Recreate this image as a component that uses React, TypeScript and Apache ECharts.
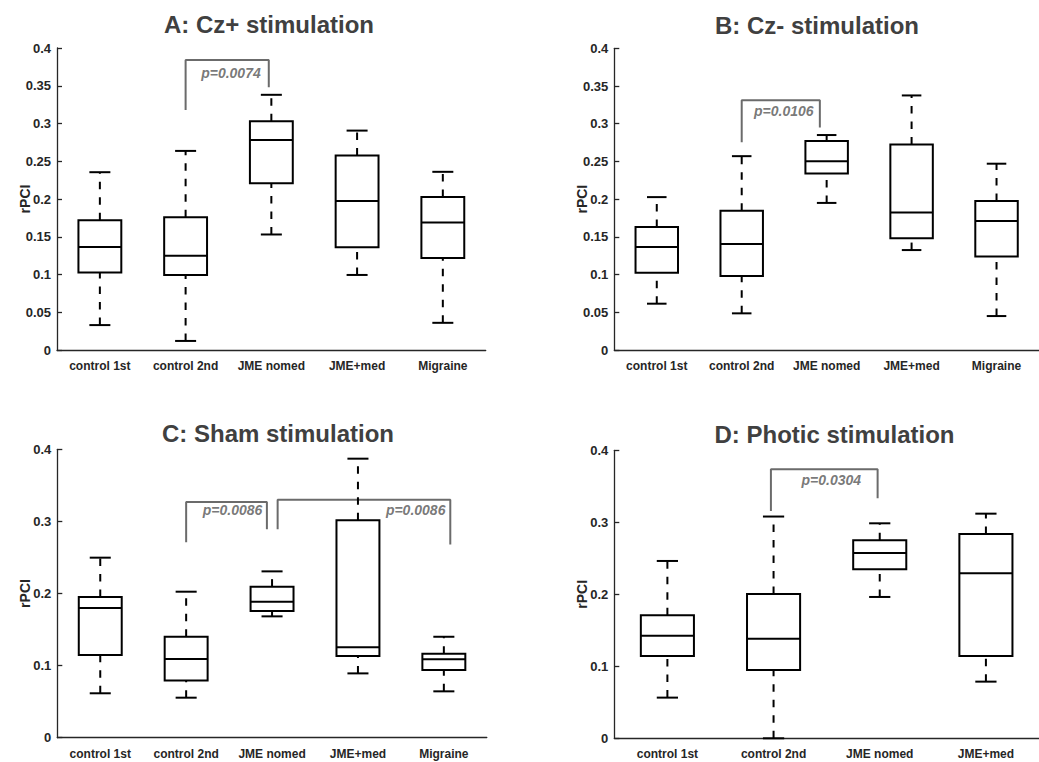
import React, { useEffect, useRef } from "react";
import * as echarts from "echarts";

// Group labels
const groups5 = ["control 1st", "control 2nd", "JME nomed", "JME+med", "Migraine"];
const groups4 = ["control 1st", "control 2nd", "JME nomed", "JME+med"];

// Box statistics per group: [lower whisker, Q1, median, Q3, upper whisker]
const czPlus = [
  [0.033, 0.1025, 0.1365, 0.172, 0.2355],
  [0.012, 0.0994, 0.125, 0.1758, 0.2637],
  [0.153, 0.221, 0.278, 0.303, 0.338],
  [0.0994, 0.136, 0.1974, 0.2575, 0.2906],
  [0.036, 0.122, 0.169, 0.2027, 0.236],
];
const czMinus = [
  [0.0614, 0.1025, 0.1365, 0.163, 0.2027],
  [0.0486, 0.098, 0.1405, 0.1846, 0.257],
  [0.195, 0.234, 0.2504, 0.277, 0.285],
  [0.1325, 0.148, 0.1824, 0.2725, 0.3375],
  [0.045, 0.124, 0.171, 0.1974, 0.247],
];
const sham = [
  [0.0616, 0.1147, 0.18, 0.195, 0.2497],
  [0.0555, 0.0795, 0.109, 0.14, 0.2025],
  [0.1683, 0.1757, 0.1887, 0.2095, 0.2307],
  [0.0892, 0.1133, 0.1253, 0.3015, 0.387],
  [0.0643, 0.0939, 0.1087, 0.1165, 0.14],
];
const photic = [
  [0.0565, 0.1143, 0.1426, 0.1708, 0.2463],
  [0, 0.0949, 0.1384, 0.2005, 0.308],
  [0.1963, 0.2347, 0.2574, 0.275, 0.2986],
  [0.0787, 0.1143, 0.2292, 0.2838, 0.312],
];

// Significance brackets: [group position, rPCI] corners
const bracketA = [[1, 0.318], [1, 0.384], [1.97, 0.384], [1.97, 0.348]];
const bracketB = [[1, 0.2756], [1, 0.331], [1.92, 0.331], [1.92, 0.295]];
const bracketC1 = [[1, 0.271], [1, 0.327], [1.94, 0.327], [1.94, 0.289]];
const bracketC2 = [[2.065, 0.289], [2.065, 0.33], [4.075, 0.33], [4.075, 0.268]];
const bracketD = [[0.975, 0.3157], [0.975, 0.3736], [1.98, 0.3736], [1.98, 0.3333]];

// p-value annotations: [group position, rPCI, text]
const noteA: [number, number, string] = [1.529, 0.367, "p=0.0074"];
const noteB: [number, number, string] = [1.496, 0.3167, "p=0.0106"];
const noteC1: [number, number, string] = [1.54, 0.3158, "p=0.0086"];
const noteC2: [number, number, string] = [3.672, 0.3158, "p=0.0086"];
const noteD: [number, number, string] = [1.544, 0.3588, "p=0.0304"];

const yTicksFine = 0.05;
const yTicksCoarse = 0.1;

const SANS = "'Liberation Sans', Arial, Helvetica, sans-serif";
const AXIS = "#262626";

const panels = [
  {
    title: "A: Cz+ stimulation", cats: groups5, boxes: czPlus, step: yTicksFine,
    brackets: [bracketA], notes: [noteA], cap: 0.245,
    grid: { left: 57, top: 48, width: 428.7, height: 302 }, titleX: 269, titleTop: 12,
  },
  {
    title: "B: Cz- stimulation", cats: groups5, boxes: czMinus, step: yTicksFine,
    brackets: [bracketB], notes: [noteB], cap: 0.23,
    grid: { left: 614.3, top: 48.3, width: 434.7, height: 301.7 }, titleX: 817, titleTop: 13.5,
  },
  {
    title: "C: Sham stimulation", cats: groups5, boxes: sham, step: yTicksCoarse,
    brackets: [bracketC1, bracketC2], notes: [noteC1, noteC2], cap: 0.245,
    grid: { left: 57.3, top: 449.3, width: 429.5, height: 288.4 }, titleX: 278, titleTop: 421,
  },
  {
    title: "D: Photic stimulation", cats: groups4, boxes: photic, step: yTicksCoarse,
    brackets: [bracketD], notes: [noteD], cap: 0.2,
    grid: { left: 614.3, top: 450.3, width: 434.3, height: 288 }, titleX: 834.5, titleTop: 422.5,
  },
];

function boxRenderer(capFrac: number) {
  return (_params: any, api: any) => {
    const i = api.value(0);
    const x = api.coord([i, 0])[0];
    const band = api.size([1, 0])[0];
    const y = (k: number) => api.coord([i, api.value(k)])[1];
    const yMin = y(1);
    const yQ1 = y(2);
    const yMed = y(3);
    const yQ3 = y(4);
    const yMax = y(5);
    const half = band * 0.25;
    const cap = (band * capFrac) / 2;
    const solid = { stroke: "#000", lineWidth: 2, fill: "none" };
    const dashed = { stroke: "#000", lineWidth: 2, lineDash: [7.5, 8] };
    return {
      type: "group",
      children: [
        { type: "line", shape: { x1: x, y1: yMin, x2: x, y2: yQ1 }, style: dashed },
        { type: "line", shape: { x1: x, y1: yQ3, x2: x, y2: yMax }, style: dashed },
        { type: "line", shape: { x1: x - cap, y1: yMin, x2: x + cap, y2: yMin }, style: solid },
        { type: "line", shape: { x1: x - cap, y1: yMax, x2: x + cap, y2: yMax }, style: solid },
        {
          type: "rect",
          shape: { x: x - half, y: yQ3, width: half * 2, height: yQ1 - yQ3 },
          style: { ...solid, fill: "#fff" },
        },
        { type: "line", shape: { x1: x - half, y1: yMed, x2: x + half, y2: yMed }, style: solid },
      ],
    };
  };
}

function buildOption() {
  const grid: any[] = [];
  const xAxis: any[] = [];
  const yAxis: any[] = [];
  const series: any[] = [];
  const title: any[] = [];

  panels.forEach((p, k) => {
    grid.push({ ...p.grid, containLabel: false });
    title.push({
      text: p.title,
      left: p.titleX,
      top: p.titleTop,
      textAlign: "center",
      padding: 0,
      textStyle: { fontFamily: SANS, fontWeight: "bold", fontSize: 24, color: "#404040" },
    });
    xAxis.push({
      type: "category",
      gridIndex: k,
      data: p.cats,
      axisLine: { onZero: false, lineStyle: { color: AXIS, width: 1.3 } },
      axisTick: { inside: true, length: 6, alignWithLabel: true, lineStyle: { color: AXIS, width: 1.3 } },
      axisLabel: { color: AXIS, fontWeight: "bold", fontSize: 12, fontFamily: SANS, margin: 10, interval: 0 },
      splitLine: { show: false },
    });
    xAxis.push({ type: "value", gridIndex: k, min: -0.5, max: p.cats.length - 0.5, show: false });
    yAxis.push({
      type: "value",
      gridIndex: k,
      min: 0,
      max: 0.4,
      interval: p.step,
      axisLine: { show: true, onZero: false, lineStyle: { color: AXIS, width: 1.3 } },
      axisTick: { show: true, inside: true, length: 5, lineStyle: { color: AXIS, width: 1.3 } },
      axisLabel: { color: AXIS, fontWeight: "bold", fontSize: 13, fontFamily: SANS, margin: 6 },
      splitLine: { show: false },
      name: "rPCI",
      nameLocation: "middle",
      nameGap: 25,
      nameMoveOverlap: false,
      nameTextStyle: { color: AXIS, fontWeight: "bold", fontSize: 14, fontFamily: SANS },
    });

    series.push({
      type: "custom",
      xAxisIndex: k * 2,
      yAxisIndex: k,
      renderItem: boxRenderer(p.cap),
      encode: { x: 0, y: [1, 2, 3, 4, 5] },
      data: p.boxes.map((b, i) => [i, ...b]),
      z: 3,
    });
    p.brackets.forEach((br) => {
      series.push({
        type: "line",
        xAxisIndex: k * 2 + 1,
        yAxisIndex: k,
        data: br,
        symbol: "none",
        lineStyle: { color: "#6b6b6b", width: 2 },
        z: 2,
      });
    });
    series.push({
      type: "scatter",
      xAxisIndex: k * 2 + 1,
      yAxisIndex: k,
      symbolSize: 0,
      data: p.notes.map((n) => ({ value: [n[0], n[1]], name: n[2] })),
      label: {
        show: true,
        position: "inside",
        formatter: "{b}",
        color: "#555555",
        fontStyle: "italic",
        fontWeight: "bold",
        fontSize: 14,
        fontFamily: SANS,
      },
      z: 4,
    });
  });

  return { animation: false, backgroundColor: "#fff", grid, xAxis, yAxis, series, title };
}

export default function App() {
  const ref = useRef<HTMLDivElement>(null);
  useEffect(() => {
    if (!ref.current) return;
    const chart = echarts.init(ref.current, undefined, { renderer: "svg" });
    chart.setOption(buildOption() as any);
    return () => chart.dispose();
  }, []);
  return (
    <div
      ref={ref}
      style={{ position: "absolute", left: 0, top: 0, width: 1039, height: 762, background: "#fff" }}
    />
  );
}
